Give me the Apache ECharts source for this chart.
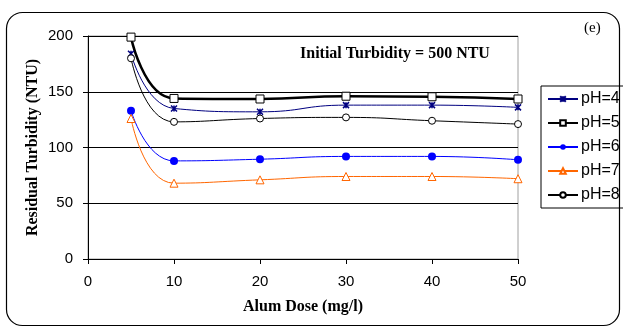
<!DOCTYPE html>
<html>
<head>
<meta charset="utf-8">
<script src="https://cdn.jsdelivr.net/npm/echarts@6/dist/echarts.min.js"></script>
<style>
  html, body { margin: 0; padding: 0; background: #fff; }
  #chart { width: 623px; height: 331px; }
</style>
</head>
<body>
<div id="chart"></div>
<script>
// alum dose (mg/l)
const doses = [5, 10, 20, 30, 40, 50];

// residual turbidity (NTU) per pH
const ph4 = [184, 135, 132, 138, 138, 136];
const ph5 = [199, 144, 143.5, 146, 145.5, 143.5];
const ph6 = [133, 88, 89.5, 92, 92, 89];
const ph7 = [126, 68, 71, 74, 74, 72];
const ph8 = [180, 123, 126, 127, 124, 121];

const seriesNames = ['pH=4', 'pH=5', 'pH=6', 'pH=7', 'pH=8'];

const pairs = (ys) => doses.map((x, i) => [x, ys[i]]);

const chart = echarts.init(document.getElementById('chart'));

const serif = '"Liberation Serif", "Times New Roman", serif';
const sans = '"Liberation Sans", Arial, sans-serif';

chart.setOption({
    animation: false,
    backgroundColor: '#fff',
    grid: {
        left: 88, right: 105, top: 36, bottom: 72,
        show: true, borderColor: '#a0a0a0', borderWidth: 1
    },
    graphic: [
        {
            type: 'rect',
            shape: { x: 6.5, y: 12.5, width: 613, height: 313, r: 16 },
            style: { fill: 'none', stroke: '#000', lineWidth: 1.2 },
            z: 100
        },
        {
            type: 'text', left: 584, top: 21,
            style: { text: '(e)', font: '15px ' + serif, fill: '#000' }
        },
        {
            type: 'text', left: 300, top: 46,
            style: { text: 'Initial Turbidity = 500 NTU', font: 'bold 16px ' + serif, fill: '#000' }
        }
    ],
    legend: {
        orient: 'vertical',
        left: 541, top: 86,
        width: 82,
        padding: [5, 10, 5, 6],
        borderColor: '#000', borderWidth: 1,
        itemWidth: 30, itemHeight: 7, itemGap: 8,
        textStyle: { fontFamily: sans, fontSize: 16, color: '#000', padding: [0, 0, 0, -2] },
        data: seriesNames
    },
    xAxis: {
        type: 'value', min: 0, max: 50, interval: 10,
        name: 'Alum Dose (mg/l)', nameLocation: 'middle', nameGap: 40,
        nameMoveOverlap: false,
        nameTextStyle: { fontFamily: serif, fontWeight: 'bold', fontSize: 16, color: '#000' },
        axisLine: { lineStyle: { color: '#000', width: 1 } },
        axisTick: { show: true, length: 5, lineStyle: { color: '#000' } },
        axisLabel: { fontFamily: sans, fontSize: 15, color: '#000', margin: 15 },
        splitLine: { show: false }
    },
    yAxis: {
        type: 'value', min: 0, max: 200, interval: 50,
        name: 'Residual Turbidity (NTU)', nameLocation: 'middle', nameGap: 47,
        nameMoveOverlap: false,
        nameTextStyle: { fontFamily: serif, fontWeight: 'bold', fontSize: 16, color: '#000' },
        axisLine: { show: true, lineStyle: { color: '#000', width: 1 } },
        axisTick: { show: true, length: 5, lineStyle: { color: '#000' } },
        axisLabel: { fontFamily: sans, fontSize: 15, color: '#000', margin: 15 },
        splitLine: { show: true, lineStyle: { color: '#000', width: 1 } }
    },
    series: [
        {
            name: seriesNames[0], type: 'line', smooth: 0.5, data: pairs(ph4),
            symbol: 'path://M0,0L10,10M10,0L0,10M5,0L5,10', symbolSize: 6,
            lineStyle: { color: '#000080', width: 1 },
            itemStyle: { color: '#000080', borderColor: '#000080', borderWidth: 1.5 }
        },
        {
            name: seriesNames[1], type: 'line', smooth: 0.5, data: pairs(ph5),
            symbol: 'rect', symbolSize: 8,
            lineStyle: { color: '#000', width: 2.5 },
            itemStyle: { color: '#fff', borderColor: '#000', borderWidth: 1 }
        },
        {
            name: seriesNames[2], type: 'line', smooth: 0.5, data: pairs(ph6),
            symbol: 'circle', symbolSize: 8,
            lineStyle: { color: '#0000ff', width: 1 },
            itemStyle: { color: '#0000ff' }
        },
        {
            name: seriesNames[3], type: 'line', smooth: 0.5, data: pairs(ph7),
            symbol: 'triangle', symbolSize: 8,
            lineStyle: { color: '#ff6600', width: 1 },
            itemStyle: { color: '#fff', borderColor: '#ff6600', borderWidth: 1 }
        },
        {
            name: seriesNames[4], type: 'line', smooth: 0.5, data: pairs(ph8),
            symbol: 'circle', symbolSize: 7,
            lineStyle: { color: '#000', width: 1 },
            itemStyle: { color: '#fff', borderColor: '#000', borderWidth: 1 }
        }
    ]
});
</script>
</body>
</html>
